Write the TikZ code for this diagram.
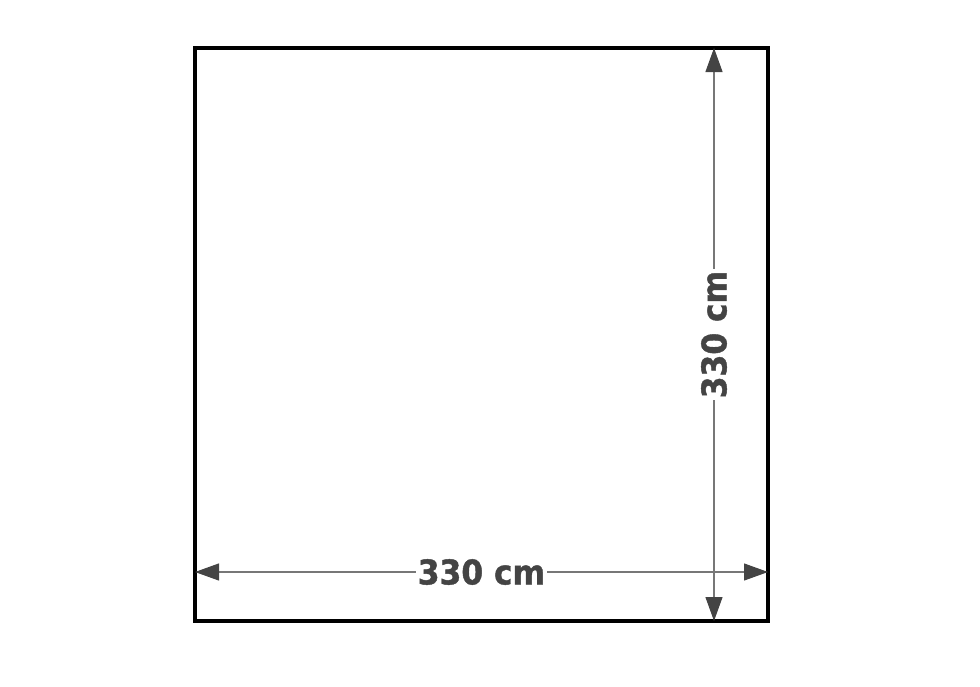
\documentclass[tikz,border=0pt]{standalone}
\usepackage{fontspec}
\setmainfont{DejaVu Sans}
\newfontfamily\dimfont[FakeStretch=0.92,FakeBold=1.2]{DejaVu Sans Bold}
\usepackage{tikz}
\usetikzlibrary{arrows.meta,positioning}
\definecolor{tipgray}{HTML}{444444}
\definecolor{linegray}{HTML}{777777}
\tikzset{>={Triangle[length=24pt,width=17pt,color=tipgray]}}
\tikzset{dimline/.style={<->,draw=linegray,line width=1.2pt},
  dimlabel/.style={fill=white,inner sep=2pt,text=tipgray,font=\dimfont\fontsize{34}{34}\selectfont}}

\begin{document}
\begin{tikzpicture} [x=1pt,y=-1pt]
\useasboundingbox (0,0) rectangle (980,686);
\coordinate (tl) at (195,48);
\coordinate (br) at (768,621);
\draw [line width=3.2pt] (tl) rectangle (br);
\coordinate (hl) at (195,572);
\coordinate (hr) at (768,572);
\coordinate (vt) at (714,48);
\coordinate (vb) at (714,621);
\draw [dimline] (hl)--(hr) node [midway,dimlabel] (wlab) {330 cm};
\draw [dimline] (vb)--(vt) node [midway,dimlabel,rotate=90] (hlab) {330 cm};
\end{tikzpicture}
\end{document}
